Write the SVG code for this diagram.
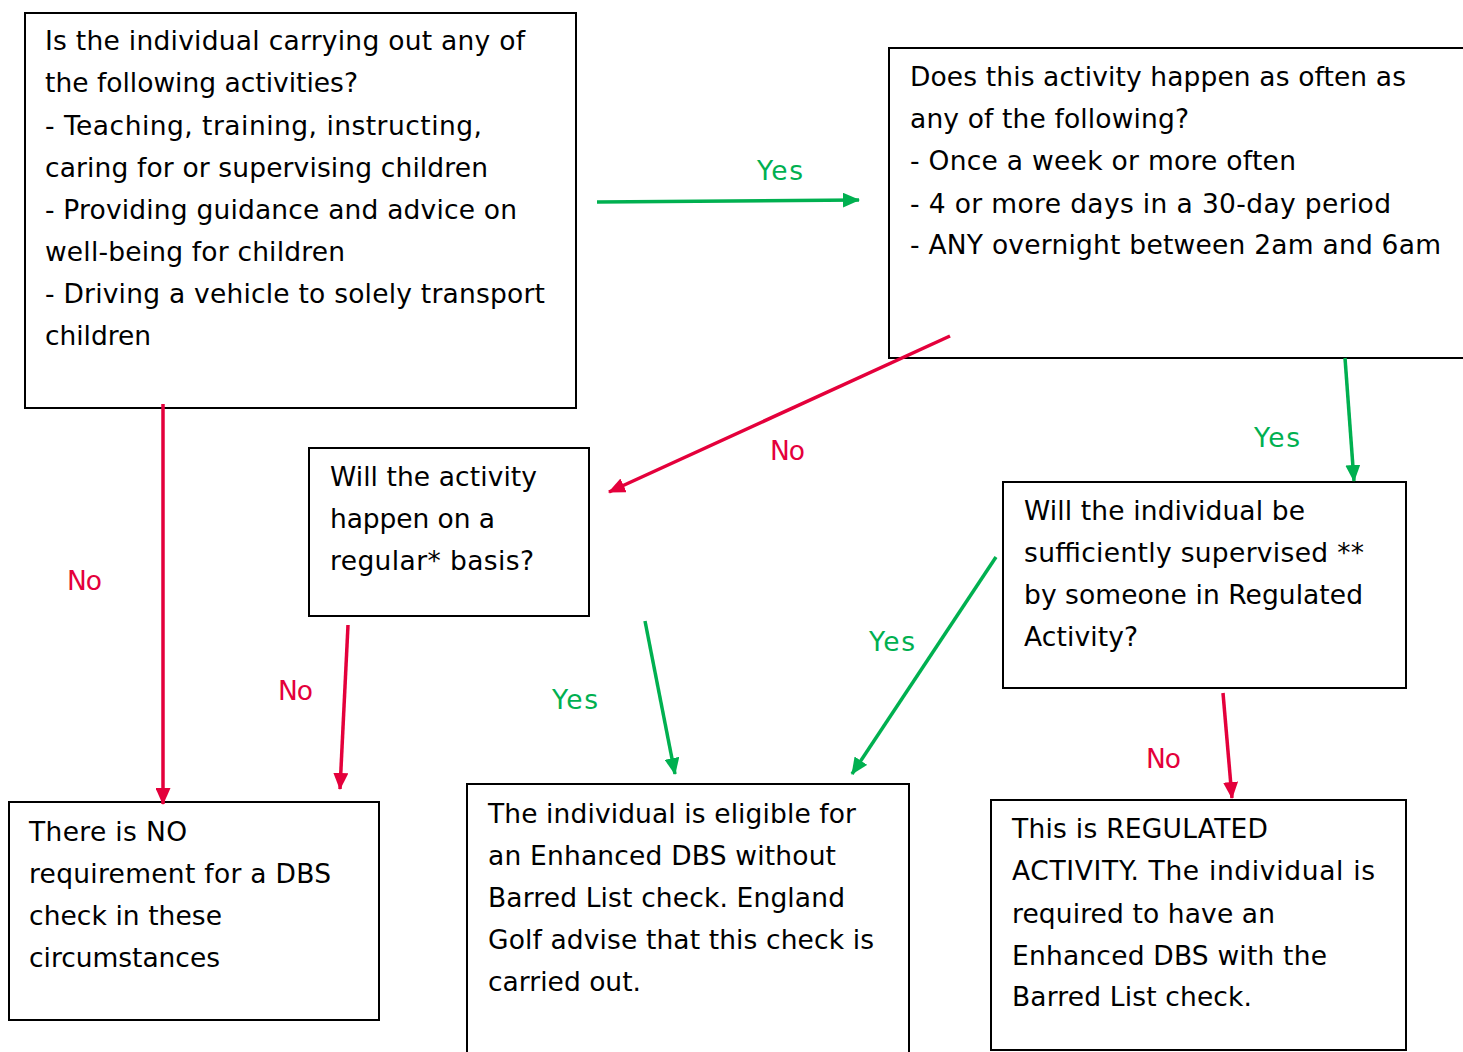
<svg xmlns="http://www.w3.org/2000/svg" width="1463" height="1052" viewBox="0 0 1463 1052">
<style>
.box{fill:#fff;stroke:#000;stroke-width:2}
text{font-family:"DejaVu Sans","Verdana",sans-serif;font-size:26.5px;fill:#000}
text.lg{fill:#00B050}
text.lr{fill:#E4003B}
.g{stroke:#00B050;stroke-width:3.5;fill:none;marker-end:url(#ag)}
.r{stroke:#E4003B;stroke-width:3.5;fill:none;marker-end:url(#ar)}
</style>
<defs>
<marker id="ag" markerWidth="17" markerHeight="15" refX="16" refY="7.5" orient="auto" markerUnits="userSpaceOnUse"><path d="M0,0 L17,7.5 L0,15 z" fill="#00B050"/></marker>
<marker id="ar" markerWidth="17" markerHeight="15" refX="16" refY="7.5" orient="auto" markerUnits="userSpaceOnUse"><path d="M0,0 L17,7.5 L0,15 z" fill="#E4003B"/></marker>
</defs>
<rect width="1463" height="1052" fill="#fff"/>
<g id="n1"><rect class="box" x="25" y="13" width="551" height="395"/>
<text x="45" y="50" textLength="480" lengthAdjust="spacing">Is the individual carrying out any of</text>
<text x="45" y="92" textLength="313" lengthAdjust="spacing">the following activities?</text>
<text x="45" y="135" textLength="437" lengthAdjust="spacing">- Teaching, training, instructing,</text>
<text x="45" y="177" textLength="443" lengthAdjust="spacing">caring for or supervising children</text>
<text x="45" y="219" textLength="472" lengthAdjust="spacing">- Providing guidance and advice on</text>
<text x="45" y="261" textLength="300" lengthAdjust="spacing">well-being for children</text>
<text x="45" y="303" textLength="500" lengthAdjust="spacing">- Driving a vehicle to solely transport</text>
<text x="45" y="345" textLength="106" lengthAdjust="spacing">children</text></g>
<g id="n2"><rect class="box" x="889" y="48" width="590" height="310"/>
<text x="910" y="86" textLength="496" lengthAdjust="spacing">Does this activity happen as often as</text>
<text x="910" y="128" textLength="279" lengthAdjust="spacing">any of the following?</text>
<text x="910" y="170" textLength="386" lengthAdjust="spacing">- Once a week or more often</text>
<text x="910" y="213" textLength="481" lengthAdjust="spacing">- 4 or more days in a 30-day period</text>
<text x="910" y="254" textLength="531" lengthAdjust="spacing">- ANY overnight between 2am and 6am</text></g>
<g id="n3"><rect class="box" x="309" y="448" width="280" height="168"/>
<text x="330" y="486" textLength="207" lengthAdjust="spacing">Will the activity</text>
<text x="330" y="528" textLength="165" lengthAdjust="spacing">happen on a</text>
<text x="330" y="570" textLength="204" lengthAdjust="spacing">regular* basis?</text></g>
<g id="n4"><rect class="box" x="1003" y="482" width="403" height="206"/>
<text x="1024" y="520" textLength="281" lengthAdjust="spacing">Will the individual be</text>
<text x="1024" y="562" textLength="340" lengthAdjust="spacing">sufficiently supervised **</text>
<text x="1024" y="604" textLength="339" lengthAdjust="spacing">by someone in Regulated</text>
<text x="1024" y="646" textLength="114" lengthAdjust="spacing">Activity?</text></g>
<g id="n5"><rect class="box" x="9" y="802" width="370" height="218"/>
<text x="29" y="841" textLength="158" lengthAdjust="spacing">There is NO</text>
<text x="29" y="883" textLength="302" lengthAdjust="spacing">requirement for a DBS</text>
<text x="29" y="925" textLength="193" lengthAdjust="spacing">check in these</text>
<text x="29" y="967" textLength="191" lengthAdjust="spacing">circumstances</text></g>
<g id="n6"><rect class="box" x="467" y="784" width="442" height="280"/>
<text x="488" y="823" textLength="368" lengthAdjust="spacing">The individual is eligible for</text>
<text x="488" y="865" textLength="348" lengthAdjust="spacing">an Enhanced DBS without</text>
<text x="488" y="907" textLength="357" lengthAdjust="spacing">Barred List check. England</text>
<text x="488" y="949" textLength="386" lengthAdjust="spacing">Golf advise that this check is</text>
<text x="488" y="991" textLength="153" lengthAdjust="spacing">carried out.</text></g>
<g id="n7"><rect class="box" x="991" y="800" width="415" height="250"/>
<text x="1012" y="838" textLength="256" lengthAdjust="spacing">This is REGULATED</text>
<text x="1012" y="880" textLength="363" lengthAdjust="spacing">ACTIVITY. The individual is</text>
<text x="1012" y="923" textLength="263" lengthAdjust="spacing">required to have an</text>
<text x="1012" y="965" textLength="315" lengthAdjust="spacing">Enhanced DBS with the</text>
<text x="1012" y="1006" textLength="240" lengthAdjust="spacing">Barred List check.</text></g>
<g id="connectors">
<line class="g" x1="597" y1="202" x2="859" y2="200"/>
<line class="g" x1="1345" y1="358" x2="1354" y2="481"/>
<line class="r" x1="950" y1="336" x2="609" y2="492"/>
<line class="r" x1="163" y1="404" x2="163" y2="804"/>
<line class="r" x1="348" y1="625" x2="340" y2="789"/>
<line class="g" x1="645" y1="621" x2="675" y2="774"/>
<line class="g" x1="996" y1="557" x2="852" y2="774"/>
<line class="r" x1="1223" y1="693" x2="1232" y2="798"/>
<text class="lg" x="757" y="180" textLength="46" lengthAdjust="spacing">Yes</text>
<text class="lg" x="1254" y="447" textLength="46" lengthAdjust="spacing">Yes</text>
<text class="lr" x="770" y="460" textLength="35" lengthAdjust="spacing">No</text>
<text class="lr" x="67" y="590" textLength="35" lengthAdjust="spacing">No</text>
<text class="lr" x="278" y="700" textLength="35" lengthAdjust="spacing">No</text>
<text class="lg" x="552" y="709" textLength="46" lengthAdjust="spacing">Yes</text>
<text class="lg" x="869" y="651" textLength="46" lengthAdjust="spacing">Yes</text>
<text class="lr" x="1146" y="768" textLength="35" lengthAdjust="spacing">No</text>
</g>
</svg>
